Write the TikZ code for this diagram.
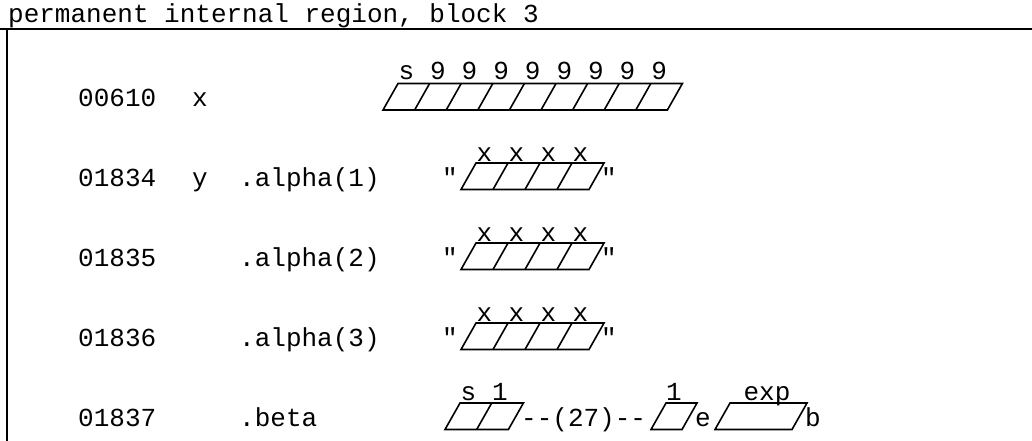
\documentclass[tikz,border=0pt]{standalone}
\usepackage{fontspec}
\newfontfamily\tw{Liberation Mono}
\begin{document}
\begin{tikzpicture}[x=1pt,y=-1pt,
  txt/.style={inner sep=0pt,anchor=base west,font=\tw\fontsize{26}{30}\selectfont},
  lab/.style={inner sep=0pt,anchor=base,font=\tw\fontsize{26}{30}\selectfont},
  frameline/.style={line width=2pt,black},
  cellline/.style={line width=1.6pt,black,line join=miter}]
\useasboundingbox (0,0) rectangle (1032,441);
\fill[white] (0,0) rectangle (1032,441);
% frame
\node[txt] (title) at (8,23) {permanent internal region, block 3};
\coordinate (tl) at (0,29);
\coordinate (tr) at (1032,29);
\coordinate (lt) at (7,29);
\coordinate (lb) at (7,441);
\draw[frameline] (tl) -- (tr);
\draw[frameline] (lt) -- (lb);
% row texts
\node[txt] (c1) at (78,106.5) {00610};
\node[txt] (v1) at (192,106.5) {x};
\node[txt] (c2) at (78,186) {01834};
\node[txt] (v2) at (192,186) {y};
\node[txt] (f2) at (239,186) {.alpha(1)};
\node[txt] (c3) at (78,266) {01835};
\node[txt] (f3) at (239,266) {.alpha(2)};
\node[txt] (c4) at (78,346) {01836};
\node[txt] (f4) at (239,346) {.alpha(3)};
\node[txt] (c5) at (78,426) {01837};
\node[txt] (f5) at (239,426) {.beta};
% row 1 cells
\draw[cellline] (383,110) -- ++(15,-26.5) -- ++(284.4,0) -- ++(-15,26.5) -- cycle;
\foreach \i in {1,...,8}{\draw[cellline] ({383+31.6*\i},110) -- ++(15,-26.5);}
\foreach \t [count=\i from 0] in {s,9,9,9,9,9,9,9,9}{
  \node[lab] (r1l\i) at ({383+31.6*(\i+0.5)+7.5},79.5) {\t};}
% rows 2-4
\foreach \b/\r in {186/2,266/3,346/4}{
  \draw[cellline] (461,\b+3.5) -- ++(15,-26.5) -- ++(128,0) -- ++(-15,26.5) -- cycle;
  \foreach \i in {1,2,3}{\draw[cellline] ({461+32*\i},\b+3.5) -- ++(15,-26.5);}
  \foreach \i in {0,1,2,3}{\node[lab] (r\r l\i) at ({461+32*(\i+0.5)+7.5},\b-25) {x};}
  \node[lab] (q\r a) at (450,\b) {"};
  \node[lab] (q\r b) at (609,\b) {"};
}
% row 5
\draw[cellline] (445,429.5) -- ++(15,-26.5) -- ++(63.4,0) -- ++(-15,26.5) -- cycle;
\draw[cellline] (476.7,429.5) -- ++(15,-26.5);
\node[lab] (r5s) at (468.5,400.5) {s};
\node[lab] (r5one) at (500,400.5) {1};
\node[txt] (dash) at (521,426) {-{}-(27)-{}-};
\draw[cellline] (651,429.5) -- ++(15,-26.5) -- ++(31,0) -- ++(-15,26.5) -- cycle;
\node[lab] (r5onb) at (674,400.5) {1};
\node[lab] (e) at (703,426) {e};
\draw[cellline] (715,429.5) -- ++(15,-26.5) -- ++(77,0) -- ++(-15,26.5) -- cycle;
\node[lab] (exp) at (767,400.5) {exp};
\node[lab] (b) at (813,426) {b};
\end{tikzpicture}
\end{document}
